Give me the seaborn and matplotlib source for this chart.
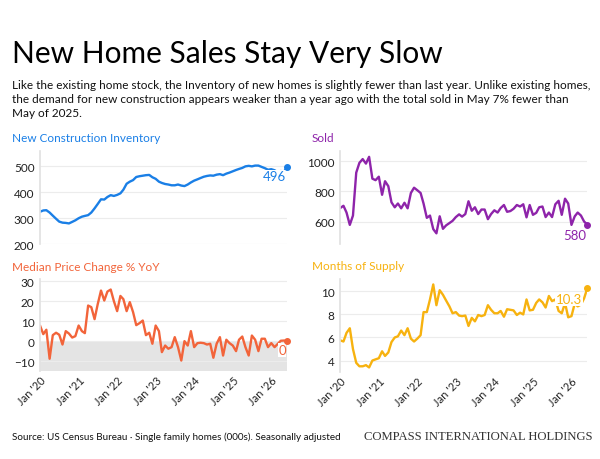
import matplotlib
matplotlib.use('Agg')
import matplotlib.pyplot as plt
import matplotlib.dates as mdates
import pandas as pd
import seaborn as sns

# monthly, Jan 2020 .. Jun 2026
months = pd.date_range('2020-01-01', periods=78, freq='MS')

inventory = [325, 330, 331, 322, 310, 298, 287, 283, 282, 280, 286, 292,
             300, 306, 309, 312, 322, 338, 355, 373, 372, 382, 389, 386,
             390, 396, 410, 433, 441, 447, 459, 462, 464, 466, 467, 458,
             452, 441, 436, 432, 430, 427, 427, 430, 426, 424, 430, 438,
             445, 450, 455, 460, 463, 465, 464, 468, 470, 466, 472, 476,
             481, 486, 490, 494, 500, 502, 500, 503, 503, 498, 493, 487,
             489, 485, 478, 482, 480, 496]

sold = [690, 705, 660, 578, 640, 925, 990, 1015, 985, 1030, 885, 875,
        898, 778, 868, 835, 728, 695, 720, 688, 725, 688, 790, 825,
        808, 790, 720, 625, 640, 550, 522, 635, 552, 575, 590, 605,
        630, 648, 633, 650, 735, 672, 695, 650, 680, 680, 616, 650,
        675, 660, 690, 710, 665, 670, 685, 710, 700, 715, 628, 710,
        645, 658, 695, 700, 630, 660, 630, 715, 738, 645, 752, 720,
        578, 635, 660, 640, 600, 580]

price_change = [7.8, 3.5, 5.7, -8.8, 3.0, 4.2, 3.2, -1.7, 5.0, 3.8, 1.8, 2.5,
                7.8, 5.0, 4.0, 17.8, 17.0, 11.0, 18.5, 25.3, 20.3, 24.8, 25.8, 20.0,
                15.0, 22.6, 21.0, 15.0, 19.5, 14.5, 8.0, 9.0, 10.3, 3.0, 4.2, -1.3,
                7.8, 5.0, -5.5, -2.2, -3.8, -3.0, 2.0, -3.0, -9.7, 0.0, -2.2, 5.0,
                -3.0, -1.0, -0.8, -1.0, -1.7, -1.3, -8.3, -1.3, 2.0, -7.2, 0.7, -1.0,
                -2.2, -5.0, 0.7, 2.3, -3.0, -7.2, 2.8, 0.7, -5.0, 1.2, 1.2, -3.0,
                -1.0, -3.0, -1.5, 0.2, 0.3, 0.0]

months_supply = [5.75, 5.65, 6.4, 6.8, 5.0, 3.8, 3.5, 3.5, 3.6, 3.4, 4.0, 4.1,
                 4.2, 4.8, 4.4, 4.7, 5.6, 6.0, 6.1, 6.6, 6.2, 6.8, 5.9, 5.65,
                 5.9, 6.2, 8.2, 8.2, 9.3, 10.6, 8.8, 10.1, 9.7, 9.2, 8.7, 8.1,
                 8.2, 7.9, 7.85, 7.9, 7.0, 7.7, 7.4, 7.95, 7.85, 7.95, 8.8, 8.4,
                 8.1, 8.1, 8.3, 7.8, 8.45, 8.4, 8.35, 7.95, 8.15, 8.0, 9.3, 8.35,
                 8.4, 9.0, 9.3, 9.05, 8.6, 9.6, 9.15, 9.3, 8.3, 8.1, 9.0, 7.75,
                 7.85, 8.95, 8.7, 8.85, 9.4, 10.3]

last_labels = ['496', '580', '0', '10.3']

df = pd.DataFrame({'month': months, 'inventory': inventory, 'sold': sold,
                   'price_change': price_change, 'months_supply': months_supply})

sns.set_theme(style='white')
plt.rcParams['font.family'] = ['Lato', 'DejaVu Sans']

fig = plt.figure(figsize=(6, 4.6), dpi=100)

BLUE = '#1a7fe6'
PURPLE = '#8e24aa'
ORANGE = '#f2643a'
AMBER = '#f7b20f'


def panel(rect, col, color, title, ylim, yticks, label, dx, dy, show_x):
    ax = fig.add_axes(rect)
    sns.lineplot(data=df, x='month', y=col, ax=ax, color=color, linewidth=1.7,
                 solid_joinstyle='round', solid_capstyle='round')
    ax.scatter(df['month'].iloc[-1], df[col].iloc[-1], s=16, color=color,
               zorder=5, clip_on=False)
    ax.annotate(label, (df['month'].iloc[-1], df[col].iloc[-1]),
                xytext=(dx, dy), textcoords='offset points', ha='right', va='top',
                color=color, fontsize=9.5, zorder=4,
                bbox=dict(boxstyle='square,pad=0.05', fc='white', ec='none'))
    ax.set_xlim(months[0], months[-1])
    ax.set_ylim(*ylim)
    ax.set_yticks(yticks)
    ax.yaxis.grid(True, color='#ececec', linewidth=0.8)
    ax.set_xlabel('')
    ax.set_ylabel('')
    for s in ['top', 'right', 'bottom']:
        ax.spines[s].set_visible(False)
    ax.spines['left'].set_color('#e2e2e2')
    ax.tick_params(axis='y', length=0, labelsize=8.5, labelcolor='#222222', pad=4)
    ax.xaxis.set_major_locator(mdates.YearLocator())
    ax.xaxis.set_major_formatter(mdates.DateFormatter("Jan '%y"))
    if show_x:
        ax.tick_params(axis='x', length=0, labelsize=8, labelcolor='#222222', pad=2)
        for t in ax.get_xticklabels():
            t.set_rotation(45)
            t.set_ha('right')
            t.set_rotation_mode('anchor')
    else:
        ax.tick_params(axis='x', length=0, labelbottom=False)
    x0 = rect[0] - 0.047
    fig.text(x0, rect[1] + rect[3] + 0.028, title, color=color, fontsize=8.5,
             va='center', ha='left')
    return ax


panel([0.0667, 0.467, 0.412, 0.203], 'inventory', BLUE, 'New Construction Inventory',
      (200, 560), [200, 300, 400, 500], last_labels[0], -1, -2, False)
panel([0.567, 0.467, 0.412, 0.203], 'sold', PURPLE, 'Sold',
      (450, 1070), [600, 800, 1000], last_labels[1], -1, -3, False)
ax3 = panel([0.0667, 0.191, 0.412, 0.2], 'price_change', ORANGE, 'Median Price Change % YoY',
            (-15, 31), [-10, 0, 10, 20, 30], last_labels[2], -1, -2, True)
ax3.axhspan(-15, 0, color='#e4e4e4', zorder=0, linewidth=0)
panel([0.567, 0.189, 0.412, 0.203], 'months_supply', AMBER, 'Months of Supply',
      (3, 11.1), [4, 6, 8, 10], last_labels[3], -4, -4, True)

fig.text(0.02, 0.863, 'New Home Sales Stay Very Slow', fontsize=21.5, color='black',
         va='baseline', ha='left')
fig.text(0.02, 0.826,
         'Like the existing home stock, the Inventory of new homes is slightly fewer than last year. Unlike existing homes,\n'
         'the demand for new construction appears weaker than a year ago with the total sold in May 7% fewer than\n'
         'May of 2025.',
         fontsize=8.5, color='#111111', va='top', ha='left', linespacing=1.32)
fig.text(0.02, 0.05, 'Source: US Census Bureau \u00b7 Single family homes (000s). Seasonally adjusted',
         fontsize=7.1, color='#111111', va='center', ha='left')
fig.text(0.987, 0.05, 'COMPASS INTERNATIONAL HOLDINGS', fontsize=9.1, color='#333333',
         family='Liberation Serif', va='center', ha='right')

fig.savefig('out.png', dpi=100, facecolor='white')
